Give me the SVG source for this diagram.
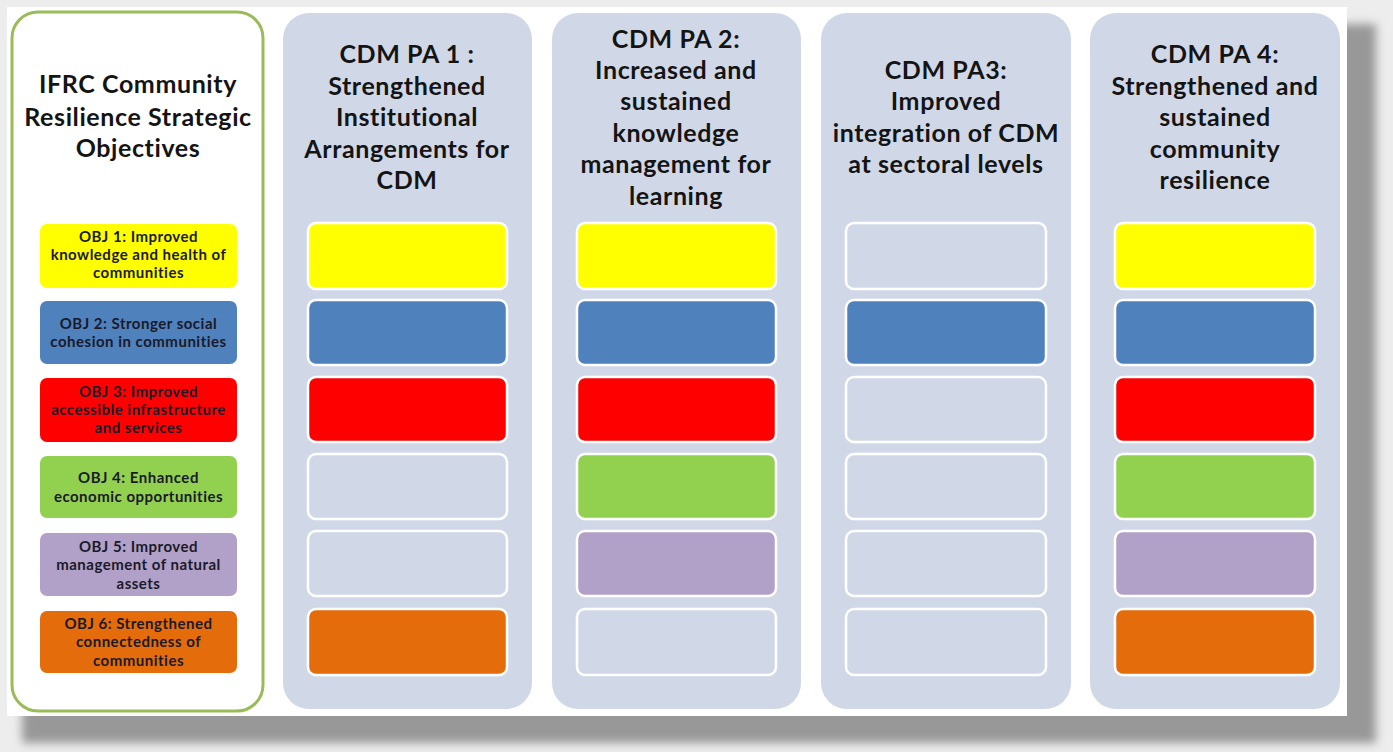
<svg xmlns="http://www.w3.org/2000/svg" width="1393" height="752" viewBox="0 0 1393 752">
<defs>
<filter id="sh" x="-5%" y="-5%" width="110%" height="110%"><feGaussianBlur stdDeviation="5"/></filter>
<style>
.bg{fill:#ededed}
.slide{fill:#ffffff}
.col{fill:#d0d8e8}
.cell{stroke:#ffffff;stroke-width:2.5}
.e{fill:#d0d8e8}
.y{fill:#ffff00}
.b{fill:#4f81bd}
.r{fill:#ff0000}
.g{fill:#92d050}
.p{fill:#b1a0c7}
.o{fill:#e46c0a}
.hd{font-family:Lato,"Open Sans","Liberation Sans",sans-serif;font-weight:bold;font-size:25px;letter-spacing:0.6px;fill:#141414;text-anchor:middle}
.ob{font-family:Lato,"Open Sans","Liberation Sans",sans-serif;font-weight:bold;font-size:15px;letter-spacing:0.5px;fill:#1a1a28;text-anchor:middle}
</style>
</defs>
<rect class="bg" x="0" y="0" width="1393" height="752"/>
<rect x="22" y="24" width="1354" height="719" fill="#989898" filter="url(#sh)"/>
<rect class="slide" x="7" y="7" width="1340" height="709"/>

<g id="objectives">
<rect x="12" y="12" width="251" height="699" rx="26" fill="#ffffff" stroke="#9bbb59" stroke-width="3"/>
<text class="hd" x="138" y="93">IFRC Community</text>
<text class="hd" x="138" y="126">Resilience Strategic</text>
<text class="hd" x="138" y="157">Objectives</text>
</g>
<g id="obj1"><rect class="y" x="40" y="224" width="197" height="64" rx="7"/>
<text class="ob" x="138.5" y="242">OBJ 1: Improved</text><text class="ob" x="138.5" y="260">knowledge and health of</text><text class="ob" x="138.5" y="278">communities</text></g>
<g id="obj2"><rect class="b" x="40" y="301" width="197" height="63" rx="7"/>
<text class="ob" x="138.5" y="329">OBJ 2: Stronger social</text><text class="ob" x="138.5" y="347">cohesion in communities</text></g>
<g id="obj3"><rect class="r" x="40" y="378" width="197" height="64" rx="7"/>
<text class="ob" x="138.5" y="397">OBJ 3: Improved</text><text class="ob" x="138.5" y="415">accessible infrastructure</text><text class="ob" x="138.5" y="433">and services</text></g>
<g id="obj4"><rect class="g" x="40" y="456" width="197" height="62" rx="7"/>
<text class="ob" x="138.5" y="483">OBJ 4: Enhanced</text><text class="ob" x="138.5" y="502">economic opportunities</text></g>
<g id="obj5"><rect class="p" x="40" y="533" width="197" height="63" rx="7"/>
<text class="ob" x="138.5" y="552">OBJ 5: Improved</text><text class="ob" x="138.5" y="570">management of natural</text><text class="ob" x="138.5" y="589">assets</text></g>
<g id="obj6"><rect class="o" x="40" y="611" width="197" height="62" rx="7"/>
<text class="ob" x="138.5" y="629">OBJ 6: Strengthened</text><text class="ob" x="138.5" y="647">connectedness of</text><text class="ob" x="138.5" y="666">communities</text></g>

<g id="pa1">
<rect class="col" x="283" y="13" width="249" height="696" rx="26"/>
<text class="hd" x="407" y="63">CDM PA 1 :</text>
<text class="hd" x="407" y="95">Strengthened</text>
<text class="hd" x="407" y="126">Institutional</text>
<text class="hd" x="407" y="158">Arrangements for</text>
<text class="hd" x="407" y="189">CDM</text>
<rect class="cell y" x="308" y="223" width="199" height="66" rx="8"/>
<rect class="cell b" x="308" y="300" width="199" height="65" rx="8"/>
<rect class="cell r" x="308" y="377" width="199" height="65" rx="8"/>
<rect class="cell e" x="308" y="454" width="199" height="65" rx="8"/>
<rect class="cell e" x="308" y="531" width="199" height="65" rx="8"/>
<rect class="cell o" x="308" y="609" width="199" height="66" rx="8"/>
</g>

<g id="pa2">
<rect class="col" x="552" y="13" width="249" height="696" rx="26"/>
<text class="hd" x="676" y="48">CDM PA 2:</text>
<text class="hd" x="676" y="79">Increased and</text>
<text class="hd" x="676" y="110">sustained</text>
<text class="hd" x="676" y="142">knowledge</text>
<text class="hd" x="676" y="173">management for</text>
<text class="hd" x="676" y="205">learning</text>
<rect class="cell y" x="577" y="223" width="199" height="66" rx="8"/>
<rect class="cell b" x="577" y="300" width="199" height="65" rx="8"/>
<rect class="cell r" x="577" y="377" width="199" height="65" rx="8"/>
<rect class="cell g" x="577" y="454" width="199" height="65" rx="8"/>
<rect class="cell p" x="577" y="531" width="199" height="65" rx="8"/>
<rect class="cell e" x="577" y="609" width="199" height="66" rx="8"/>
</g>

<g id="pa3">
<rect class="col" x="821" y="13" width="250" height="696" rx="26"/>
<text class="hd" x="946" y="79">CDM PA3:</text>
<text class="hd" x="946" y="110">Improved</text>
<text class="hd" x="946" y="142">integration of CDM</text>
<text class="hd" x="946" y="173">at sectoral levels</text>
<rect class="cell e" x="846" y="223" width="200" height="66" rx="8"/>
<rect class="cell b" x="846" y="300" width="200" height="65" rx="8"/>
<rect class="cell e" x="846" y="377" width="200" height="65" rx="8"/>
<rect class="cell e" x="846" y="454" width="200" height="65" rx="8"/>
<rect class="cell e" x="846" y="531" width="200" height="65" rx="8"/>
<rect class="cell e" x="846" y="609" width="200" height="66" rx="8"/>
</g>

<g id="pa4">
<rect class="col" x="1090" y="13" width="250" height="696" rx="26"/>
<text class="hd" x="1215" y="63">CDM PA 4:</text>
<text class="hd" x="1215" y="95">Strengthened and</text>
<text class="hd" x="1215" y="126">sustained</text>
<text class="hd" x="1215" y="158">community</text>
<text class="hd" x="1215" y="189">resilience</text>
<rect class="cell y" x="1115" y="223" width="200" height="66" rx="8"/>
<rect class="cell b" x="1115" y="300" width="200" height="65" rx="8"/>
<rect class="cell r" x="1115" y="377" width="200" height="65" rx="8"/>
<rect class="cell g" x="1115" y="454" width="200" height="65" rx="8"/>
<rect class="cell p" x="1115" y="531" width="200" height="65" rx="8"/>
<rect class="cell o" x="1115" y="609" width="200" height="66" rx="8"/>
</g>
<g id="connectors"></g>
</svg>
